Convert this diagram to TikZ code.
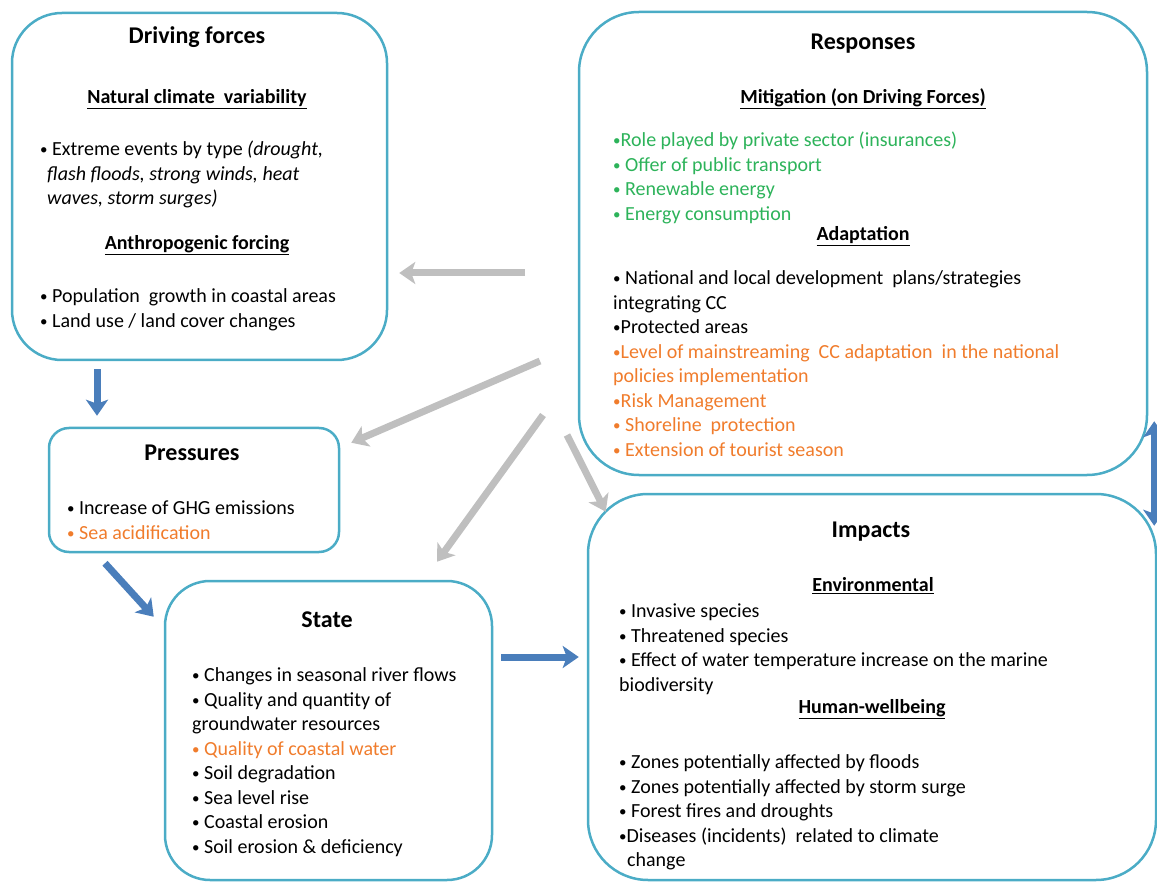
\documentclass[tikz,border=0pt]{standalone}
\usepackage{fontspec}
\setmainfont{Carlito}
\usetikzlibrary{arrows.meta}

\definecolor{boxline}{HTML}{4BACC6}
\definecolor{flowblue}{HTML}{4A7EBB}
\definecolor{flowgray}{HTML}{BFBFBF}
\definecolor{mitgreen}{HTML}{2DB35A}
\definecolor{adaorange}{HTML}{F07C2C}

% small list bullet
\newcommand{\dpbul}{{\fontsize{15}{15}\selectfont\raisebox{1pt}{•}}}

\tikzset{
  dpsirbox/.style={draw=boxline, line width=2.5pt, rounded corners=#1, inner sep=0pt},
  boxtitle/.style={font=\bfseries\fontsize{24}{28}\selectfont},
  subhead/.style={font=\bfseries\fontsize{20}{24}\selectfont},
  itemlist/.style={anchor=north west, yshift=12.15pt, align=left, inner sep=0pt,
    font=\fontsize{20}{24.5}\selectfont, execute at begin node=\strut},
  bluearrow/.style={flowblue, line width=7pt, -{Stealth[length=16pt,width=22pt,inset=4pt]}},
  grayarrow/.style={flowgray, line width=7pt, -{Stealth[length=16pt,width=22pt,inset=4pt]}},
}

\begin{document}
\begin{tikzpicture}[x=1pt, y=-1pt]
    \useasboundingbox (0,0) rectangle (1157,882);

    % Boxes
    \node[dpsirbox=50pt, minimum width=375pt, minimum height=347pt] (drv) at (199.5,186.5) {};
    \node[dpsirbox=20pt, minimum width=290pt, minimum height=124pt] (pres) at (194,490) {};
    \node[dpsirbox=45pt, minimum width=327pt, minimum height=299pt] (state) at (328.5,730.5) {};
    \node[dpsirbox=60pt, minimum width=568pt, minimum height=463pt] (resp) at (863,243.5) {};
    \node[dpsirbox=60pt, minimum width=568pt, minimum height=386pt] (imp) at (872,687) {};

    % Driving forces
    \node[boxtitle] (drvtitle) at (197,37) {Driving forces};
    \node[subhead] (drvnat) at (197,99) {\underline{Natural climate\ \ variability}};
    \node[itemlist] (drvnatlist) at (40,153) {%
        \dpbul\ Extreme events by type \textit{(drought,}\\
        \hspace*{7pt}\textit{flash floods, strong winds, heat}\\
        \hspace*{7pt}\textit{waves, storm surges)}};
    \node[subhead] (drvanth) at (197,245) {\underline{Anthropogenic forcing}};
    \node[itemlist] (drvanthlist) at (40,301) {%
        \dpbul\ Population\ \ growth in coastal areas\\
        \dpbul\ Land use / land cover changes};

    % Pressures
    \node[boxtitle] (prestitle) at (192,453) {Pressures};
    \node[itemlist] (preslist) at (67,513) {%
        \dpbul\ Increase of GHG emissions\\
        \textcolor{adaorange}{\dpbul\ Sea acidification}};

    % State
    \node[boxtitle] (statetitle) at (327,620) {State};
    \node[itemlist] (statelist) at (192,680) {%
        \dpbul\ Changes in seasonal river flows\\
        \dpbul\ Quality and quantity of\\
        groundwater resources\\
        \textcolor{adaorange}{\dpbul\ Quality of coastal water}\\
        \dpbul\ Soil degradation\\
        \dpbul\ Sea level rise\\
        \dpbul\ Coastal erosion\\
        \dpbul\ Soil erosion \& deficiency};

    % Responses
    \node[boxtitle] (resptitle) at (863,44) {Responses};
    \node[subhead] (respmit) at (863,99) {\underline{Mitigation (on Driving Forces)}};
    \node[itemlist, text=mitgreen] (respmitlist) at (613,144) {%
        \dpbul Role played by private sector (insurances)\\
        \dpbul\ Offer of public transport\\
        \dpbul\ Renewable energy\\
        \dpbul\ Energy consumption};
    \node[subhead] (respada) at (863,236) {\underline{Adaptation}};
    \node[itemlist] (respadalist) at (613,283) {%
        \dpbul\ National and local development\ \ plans/strategies\\
        integrating CC\\
        \dpbul Protected areas\\
        \textcolor{adaorange}{\dpbul Level of mainstreaming\ \ CC adaptation\ \ in the national}\\
        \textcolor{adaorange}{policies implementation}\\
        \textcolor{adaorange}{\dpbul Risk Management}\\
        \textcolor{adaorange}{\dpbul\ Shoreline\ \ protection}\\
        \textcolor{adaorange}{\dpbul\ Extension of tourist season}};

    % Impacts
    \node[boxtitle] (imptitle) at (871,532) {Impacts};
    \node[subhead] (impenv) at (873,586) {\underline{Environmental}};
    \node[itemlist] (impenvlist) at (619,616) {%
        \dpbul\ Invasive species\\
        \dpbul\ Threatened species\\
        \dpbul\ Effect of water temperature increase on the marine\\
        biodiversity};
    \node[subhead] (imphum) at (872,709) {\underline{Human-wellbeing}};
    \node[itemlist] (imphumlist) at (619,767) {%
        \dpbul\ Zones potentially affected by floods\\
        \dpbul\ Zones potentially affected by storm surge\\
        \dpbul\ Forest fires and droughts\\
        \dpbul Diseases (incidents)\ \ related to climate\\
        \hspace*{8pt}change};

    % Causal chain
    \draw[bluearrow, shorten <=8pt] ([xshift=-102.5pt]drv.south) -- ([xshift=-97pt,yshift=11pt]pres.north);
    \draw[bluearrow] ([xshift=-89pt,yshift=-10pt]pres.south) -- ([xshift=-10pt,yshift=-37pt]state.north west);
    \draw[bluearrow] ([xshift=8pt,yshift=73.5pt]state.east) -- ([xshift=-8pt,yshift=30pt]imp.west);
    \draw[flowblue, line width=7pt, {Stealth[length=16pt,width=22pt,inset=4pt]}-{Stealth[length=16pt,width=22pt,inset=4pt]}]
        ([xshift=6pt,yshift=55pt]resp.south east) -- ([xshift=-3pt,yshift=-33pt]imp.north east);

    % Responses feed back
    \coordinate (fbdrv) at (525,273);
    \coordinate (fbpres) at (540,361);
    \coordinate (fbstate) at (543,415);
    \coordinate (fbimp) at (567,435);
    \draw[grayarrow] (fbdrv) -- ([xshift=11pt,yshift=-86.5pt]drv.east);
    \draw[grayarrow] (fbpres) -- ([xshift=11pt,yshift=-16pt]pres.north east);
    \draw[grayarrow] (fbstate) -- ([xshift=108.5pt,yshift=18pt]state.north);
    \draw[grayarrow] (fbimp) -- ([xshift=19pt,yshift=-19pt]imp.north west);

\end{tikzpicture}
\end{document}
